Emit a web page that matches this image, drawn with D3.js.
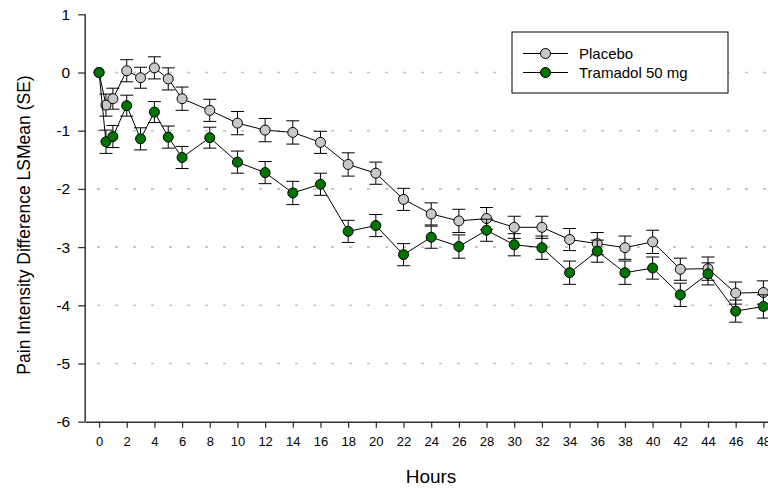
<!DOCTYPE html>
<html>
<head>
<meta charset="utf-8">
<script src="https://cdn.jsdelivr.net/npm/d3@7"></script>
<style>
  body { margin: 0; background: #fff; overflow: hidden; }
  svg { display: block; font-family: "Liberation Sans", Arial, sans-serif; }
</style>
</head>
<body>
<svg></svg>
<script>
const hours = [0, 0.5, 1, 2, 3, 4, 5, 6, 8, 10, 12, 14, 16, 18, 20, 22, 24, 26, 28, 30, 32, 34, 36, 38, 40, 42, 44, 46, 48];
const placebo = [0, -0.56, -0.45, 0.03, -0.09, 0.08, -0.11, -0.45, -0.65, -0.87, -0.99, -1.03, -1.20, -1.58, -1.73, -2.18, -2.43, -2.55, -2.51, -2.66, -2.66, -2.87, -2.94, -3.01, -2.91, -3.38, -3.37, -3.79, -3.78];
const placeboSE = [0, 0.19, 0.18, 0.19, 0.18, 0.19, 0.19, 0.2, 0.19, 0.2, 0.2, 0.2, 0.19, 0.2, 0.19, 0.19, 0.19, 0.2, 0.19, 0.19, 0.19, 0.19, 0.19, 0.2, 0.2, 0.19, 0.2, 0.19, 0.2];
const tramadol = [0, -1.19, -1.10, -0.57, -1.14, -0.68, -1.11, -1.46, -1.12, -1.54, -1.72, -2.07, -1.92, -2.73, -2.63, -3.13, -2.83, -2.99, -2.71, -2.96, -3.01, -3.44, -3.07, -3.44, -3.36, -3.82, -3.46, -4.10, -4.02];
const tramadolSE = [0, 0.2, 0.19, 0.18, 0.19, 0.18, 0.19, 0.19, 0.18, 0.19, 0.19, 0.2, 0.19, 0.19, 0.19, 0.19, 0.19, 0.2, 0.19, 0.19, 0.2, 0.2, 0.19, 0.2, 0.19, 0.2, 0.19, 0.19, 0.2];
const xTicks = d3.range(0, 49, 2);
const yTicks = [-6, -5, -4, -3, -2, -1, 0, 1];
const gridValues = [-5, -4, -3, -2, -1, 0];

const series = [
  { name: "Placebo", values: placebo, se: placeboSE, color: "#c8c8c8" },
  { name: "Tramadol 50 mg", values: tramadol, se: tramadolSE, color: "#007400" }
];

const width = 768;
const height = 489;

const svg = d3.select("svg").attr("width", width).attr("height", height);

const xScale = d3.scaleLinear().domain([-1, 50]).range([85.2, 85.2 + 51 * 13.84]);
const yScale = d3.scaleLinear().domain([-6, 1]).range([421.7, 14.3]);

// dotted grid
svg.append("g")
  .selectAll("line")
  .data(gridValues)
  .join("line")
  .attr("x1", 97)
  .attr("x2", width)
  .attr("y1", (d) => yScale(d))
  .attr("y2", (d) => yScale(d))
  .attr("stroke", "#c4c4c4")
  .attr("stroke-width", 1.6)
  .attr("stroke-dasharray", "3,15");

// axes
const yAxis = d3.axisLeft(yScale).tickValues(yTicks).tickFormat((d) => String(d)).tickSize(7).tickSizeOuter(0).tickPadding(8);
const xAxis = d3.axisBottom(xScale).tickValues(xTicks).tickFormat((d) => String(d)).tickSize(6).tickSizeOuter(0).tickPadding(9);

const gy = svg.append("g").attr("transform", "translate(85.2,0)").call(yAxis);
gy.selectAll("text").attr("font-size", 15.5).attr("fill", "#000");

const gx = svg.append("g").attr("transform", "translate(0,421.7)").call(xAxis);
gx.selectAll("text").attr("font-size", 13).attr("fill", "#000");

svg.selectAll(".domain").attr("stroke", "#333").attr("stroke-width", 1.5);
svg.selectAll(".tick line").attr("stroke", "#333").attr("stroke-width", 1.3);
gy.select(".domain").attr("d", "M0," + yScale(1) + "V" + yScale(-6));

// axis titles
svg.append("text")
  .attr("transform", "translate(29.5,225) rotate(-90)")
  .attr("text-anchor", "middle")
  .attr("font-size", 17.5)
  .text("Pain Intensity Difference LSMean (SE)");

svg.append("text")
  .attr("x", 431)
  .attr("y", 483)
  .attr("text-anchor", "middle")
  .attr("font-size", 19)
  .text("Hours");

// series
const line = d3.line()
  .x((d) => xScale(d.h))
  .y((d) => yScale(d.v));

series.forEach((s) => {
  const pts = hours.map((h, i) => ({ h: h, v: s.values[i], se: s.se[i] }));
  const g = svg.append("g");

  const bars = g.selectAll("g.err").data(pts.filter((d) => d.se > 0)).join("g").attr("class", "err");
  bars.append("line")
    .attr("x1", (d) => xScale(d.h)).attr("x2", (d) => xScale(d.h))
    .attr("y1", (d) => yScale(d.v + d.se)).attr("y2", (d) => yScale(d.v - d.se))
    .attr("stroke", "#000");
  [1, -1].forEach((sgn) => {
    bars.append("line")
      .attr("x1", (d) => xScale(d.h) - 6.5).attr("x2", (d) => xScale(d.h) + 6.5)
      .attr("y1", (d) => yScale(d.v + sgn * d.se)).attr("y2", (d) => yScale(d.v + sgn * d.se))
      .attr("stroke", "#000");
  });

  g.append("path")
    .datum(pts)
    .attr("d", line)
    .attr("fill", "none")
    .attr("stroke", "#000")
    .attr("stroke-width", 1);

  g.selectAll("circle")
    .data(pts)
    .join("circle")
    .attr("cx", (d) => xScale(d.h))
    .attr("cy", (d) => yScale(d.v))
    .attr("r", 5)
    .attr("fill", s.color)
    .attr("stroke", "#000")
    .attr("stroke-width", 1);
});

// legend
const legend = svg.append("g");
legend.append("rect")
  .attr("x", 512).attr("y", 32).attr("width", 216).attr("height", 61)
  .attr("fill", "#fff").attr("stroke", "#000").attr("stroke-width", 1);

const legendY = [53.5, 72.5];
series.forEach((s, i) => {
  legend.append("line")
    .attr("x1", 523).attr("x2", 568)
    .attr("y1", legendY[i]).attr("y2", legendY[i])
    .attr("stroke", "#000");
  legend.append("circle")
    .attr("cx", 545.5).attr("cy", legendY[i]).attr("r", 5)
    .attr("fill", s.color).attr("stroke", "#000");
  legend.append("text")
    .attr("x", 579).attr("y", legendY[i] + 5.2)
    .attr("font-size", 15)
    .text(s.name);
});
</script>
</body>
</html>
